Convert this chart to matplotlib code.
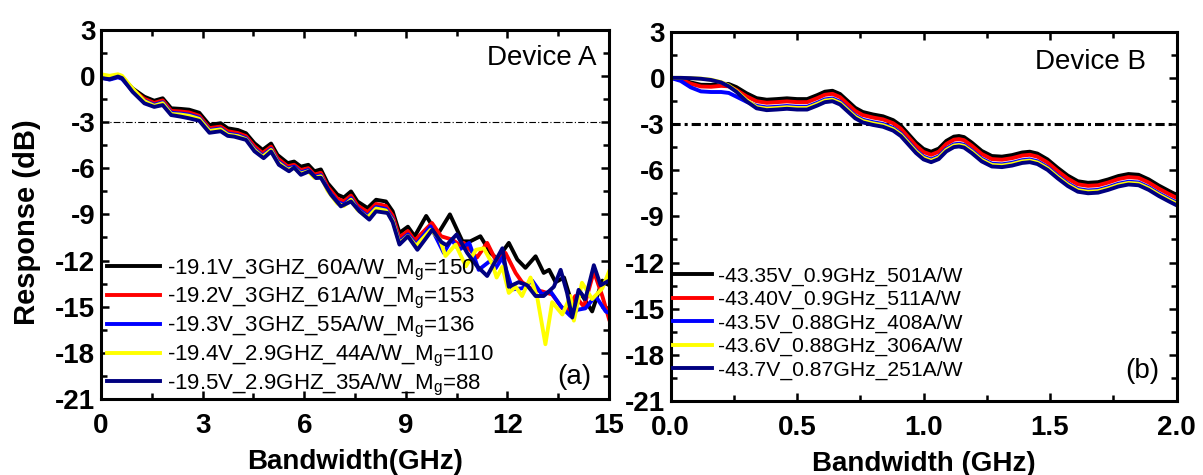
import matplotlib.pyplot as plt
from matplotlib.ticker import MultipleLocator

plt.rcParams['font.family'] = ['Liberation Sans', 'DejaVu Sans']
plt.rcParams['mathtext.default'] = 'regular'

# ---------------- Device A (frequency in GHz, response in dB) ----------------
a_black_f = [0, 0.25, 0.5, 0.62, 0.93, 1.28, 1.57, 1.82, 2.07, 2.35, 2.6, 2.9, 3.2, 3.53, 3.74,
             4.04, 4.28, 4.53, 4.77, 5.02, 5.21, 5.51, 5.7, 5.9, 6.12, 6.3, 6.49, 6.69, 6.98,
             7.17, 7.38, 7.57, 7.87, 8.12, 8.41, 8.61, 8.81, 9.06, 9.26, 9.6, 9.94, 10.3, 10.67,
             10.9, 11.2, 11.5, 11.7, 12.04, 12.29, 12.53, 12.83, 13.07, 13.23, 13.42, 13.67,
             13.91, 14.16, 14.5, 14.8, 15.0]
a_black_db = [-0.05, -0.15, 0.0, -0.1, -0.82, -1.36, -1.62, -1.46, -2.11, -2.15, -2.2, -2.4, -3.2,
              -3.08, -3.41, -3.52, -3.73, -4.38, -4.81, -4.4, -5.14, -5.67, -5.57, -5.9, -5.78,
              -6.2, -6.08, -6.97, -7.72, -7.9, -7.51, -8.16, -8.59, -8.05, -8.16, -8.8, -10.2,
              -9.8, -10.42, -9.1, -10.3, -9.0, -10.75, -10.75, -10.42, -11.5, -11.9, -10.85,
              -11.93, -12.47, -11.72, -12.8, -12.6, -13.4, -13.1, -14.85, -14.1, -15.3, -13.3,
              -13.6]

a_red_f = [0, 0.25, 0.5, 0.62, 0.93, 1.28, 1.57, 1.82, 2.07, 2.35, 2.6, 2.9, 3.2, 3.53, 3.74,
           4.04, 4.28, 4.53, 4.77, 5.02, 5.21, 5.51, 5.7, 5.9, 6.12, 6.3, 6.49, 6.69, 6.98,
           7.17, 7.38, 7.57, 7.87, 8.12, 8.41, 8.61, 8.81, 9.06, 9.26, 9.77, 10.04, 10.37,
           10.6, 10.71, 11.1, 11.4, 11.66, 11.94, 12.24, 12.43, 12.73, 13.02, 13.32, 13.62,
           13.76, 14.0, 14.26, 14.55, 14.8, 15.0]
a_red_db = [-0.05, -0.2, -0.05, -0.15, -0.9, -1.5, -1.76, -1.6, -2.28, -2.32, -2.38, -2.6, -3.4,
            -3.3, -3.6, -3.72, -3.92, -4.58, -5.02, -4.6, -5.35, -5.88, -5.78, -6.12, -6.0,
            -6.42, -6.3, -7.2, -7.98, -8.15, -7.78, -8.42, -8.85, -8.32, -8.45, -9.08, -10.5,
            -10.08, -10.7, -9.56, -10.42, -10.64, -11.0, -10.85, -11.8, -10.85, -12.0, -11.5,
            -12.8, -13.4, -13.87, -14.0, -14.2, -15.1, -15.27, -14.3, -15.0, -12.7, -14.3,
            -15.8]

a_blue_f = [0, 0.25, 0.5, 0.62, 0.93, 1.28, 1.57, 1.82, 2.07, 2.35, 2.6, 2.9, 3.2, 3.53, 3.74,
            4.04, 4.28, 4.53, 4.77, 5.02, 5.21, 5.51, 5.7, 5.9, 6.12, 6.3, 6.49, 6.69, 6.98,
            7.17, 7.38, 7.57, 7.87, 8.12, 8.41, 8.61, 8.81, 9.06, 9.3, 9.73, 10.12, 10.35,
            10.57, 10.87, 11.15, 11.5, 11.65, 11.85, 12.14, 12.43, 12.73, 13.02, 13.27, 13.57,
            13.86, 14.06, 14.3, 14.6, 14.9, 15.0]
a_blue_db = [-0.1, -0.25, -0.1, -0.2, -0.98, -1.62, -1.88, -1.72, -2.4, -2.45, -2.52, -2.72,
             -3.52, -3.42, -3.75, -3.85, -4.05, -4.75, -5.18, -4.75, -5.52, -6.02, -5.9, -6.27,
             -6.12, -6.55, -6.45, -7.38, -8.2, -8.35, -7.95, -8.6, -9.1, -8.52, -8.65, -9.3,
             -10.78, -10.3, -10.95, -9.78, -11.5, -10.64, -11.3, -10.85, -12.6, -12.0, -12.5,
             -11.8, -13.87, -13.8, -13.3, -14.2, -14.0, -14.95, -15.6, -15.2, -15.1, -14.3,
             -15.3, -15.4]

a_yellow_f = [0, 0.25, 0.5, 0.62, 0.93, 1.28, 1.57, 1.82, 2.07, 2.35, 2.6, 2.9, 3.2, 3.53, 3.74,
              4.04, 4.28, 4.53, 4.77, 5.02, 5.21, 5.51, 5.7, 5.9, 6.12, 6.3, 6.49, 6.69, 6.98,
              7.17, 7.38, 7.57, 7.87, 8.12, 8.41, 8.61, 8.81, 9.06, 9.3, 9.73, 10.0, 10.17,
              10.47, 10.77, 11.07, 11.3, 11.55, 11.68, 11.85, 12.04, 12.24, 12.43, 12.68, 12.88,
              13.12, 13.32, 13.62, 13.86, 13.96, 14.2, 14.5, 14.8, 15.0]
a_yellow_db = [0.1, 0.0, 0.1, 0.0, -0.82, -1.65, -1.95, -1.78, -2.48, -2.52, -2.6, -2.8, -3.58,
               -3.48, -3.82, -3.92, -4.12, -4.82, -5.26, -4.82, -5.6, -6.1, -5.98, -6.35, -6.2,
               -6.62, -6.53, -7.46, -8.3, -8.45, -8.05, -8.7, -9.2, -8.62, -8.75, -9.4, -10.88,
               -10.4, -11.05, -10.0, -10.6, -11.7, -10.96, -12.37, -11.3, -11.2, -12.2, -13.1,
               -12.4, -14.1, -13.7, -14.3, -13.1, -14.4, -17.43, -14.7, -15.5, -14.3, -15.9,
               -13.44, -14.5, -13.8, -12.7]

a_navy_f = [0, 0.25, 0.5, 0.62, 0.93, 1.28, 1.57, 1.82, 2.07, 2.35, 2.6, 2.9, 3.2, 3.53, 3.74,
            3.93, 4.28, 4.53, 4.8, 5.02, 5.25, 5.55, 5.7, 5.9, 6.15, 6.35, 6.49, 6.79, 7.08,
            7.38, 7.63, 7.92, 8.12, 8.46, 8.61, 8.81, 9.06, 9.34, 9.78, 10.05, 10.2, 10.5,
            10.81, 11.1, 11.4, 11.65, 11.85, 12.04, 12.33, 12.58, 12.83, 13.07, 13.37, 13.57,
            13.76, 13.91, 14.1, 14.3, 14.55, 14.75, 15.0]
a_navy_db = [-0.15, -0.22, -0.05, -0.15, -1.04, -1.79, -2.02, -1.9, -2.55, -2.65, -2.76, -2.92,
             -3.7, -3.6, -3.9, -3.95, -4.16, -4.9, -5.35, -4.92, -5.78, -6.2, -5.96, -6.43, -6.2,
             -6.64, -6.62, -7.72, -8.48, -8.16, -8.8, -9.34, -8.8, -8.91, -9.5, -10.96, -10.42,
             -11.3, -10.0, -10.8, -11.0, -10.3, -11.5, -12.36, -13.0, -12.0, -11.2, -13.7,
             -13.4, -13.6, -14.3, -14.3, -13.7, -12.6, -14.1, -15.7, -13.9, -14.5, -12.3, -13.6,
             -13.3]

labels_a = ['-19.1V_3GHZ_60A/W_M$_{g}$=150',
            '-19.2V_3GHZ_61A/W_M$_{g}$=153',
            '-19.3V_3GHZ_55A/W_M$_{g}$=136',
            '-19.4V_2.9GHZ_44A/W_M$_{g}$=110',
            '-19.5V_2.9GHZ_35A/W_M$_{g}$=88']

# ---------------- Device B (shared frequency grid) ----------------
freq_b = [0.0, 0.04, 0.08, 0.12, 0.16, 0.20, 0.23, 0.26, 0.30, 0.34, 0.38, 0.42, 0.46, 0.50,
          0.54, 0.58, 0.61, 0.64, 0.67, 0.70, 0.73, 0.76, 0.80, 0.84, 0.88, 0.91, 0.94, 0.97,
          1.00, 1.03, 1.06, 1.09, 1.12, 1.14, 1.16, 1.19, 1.23, 1.27, 1.31, 1.35, 1.39, 1.42,
          1.45, 1.49, 1.53, 1.57, 1.61, 1.65, 1.69, 1.73, 1.77, 1.81, 1.85, 1.89, 1.93, 1.97,
          2.00]
b_black = [0.0, -0.08, -0.3, -0.45, -0.46, -0.38, -0.4, -0.6, -1.0, -1.32, -1.42, -1.38, -1.33,
           -1.38, -1.38, -1.12, -0.9, -0.84, -1.05, -1.5, -1.95, -2.22, -2.38, -2.5, -2.75,
           -3.1, -3.65, -4.2, -4.62, -4.8, -4.6, -4.1, -3.82, -3.78, -3.85, -4.2, -4.75, -5.08,
           -5.12, -5.02, -4.85, -4.8, -4.92, -5.3, -5.85, -6.35, -6.72, -6.82, -6.78, -6.6,
           -6.38, -6.25, -6.3, -6.6, -7.0, -7.35, -7.6]
b_red = [0.0, -0.1, -0.38, -0.56, -0.58, -0.52, -0.55, -0.78, -1.2, -1.52, -1.62, -1.58, -1.53,
         -1.58, -1.58, -1.32, -1.1, -1.04, -1.25, -1.7, -2.15, -2.42, -2.58, -2.7, -2.95, -3.3,
         -3.85, -4.4, -4.82, -5.0, -4.8, -4.3, -4.02, -3.98, -4.05, -4.4, -4.95, -5.28, -5.32,
         -5.22, -5.05, -5.0, -5.12, -5.5, -6.05, -6.55, -6.92, -7.02, -6.98, -6.8, -6.58, -6.45,
         -6.5, -6.8, -7.2, -7.55, -7.8]
b_blue = [0.0, -0.2, -0.62, -0.88, -0.92, -0.92, -0.98, -1.22, -1.55, -1.82, -1.92, -1.88,
          -1.83, -1.88, -1.88, -1.62, -1.4, -1.34, -1.55, -2.0, -2.45, -2.72, -2.88, -3.0,
          -3.25, -3.6, -4.15, -4.7, -5.12, -5.3, -5.1, -4.6, -4.32, -4.28, -4.35, -4.7, -5.25,
          -5.58, -5.62, -5.52, -5.35, -5.3, -5.42, -5.8, -6.35, -6.85, -7.22, -7.32, -7.28,
          -7.1, -6.88, -6.75, -6.8, -7.1, -7.5, -7.85, -8.1]
b_yellow = [0.0, 0.0, -0.02, -0.05, -0.12, -0.28, -0.5, -0.85, -1.45, -1.9, -2.0, -1.96, -1.91,
            -1.96, -1.96, -1.7, -1.48, -1.42, -1.63, -2.08, -2.53, -2.8, -2.96, -3.08, -3.33,
            -3.68, -4.23, -4.78, -5.2, -5.38, -5.18, -4.68, -4.4, -4.36, -4.43, -4.78, -5.33,
            -5.66, -5.7, -5.6, -5.43, -5.38, -5.5, -5.88, -6.43, -6.93, -7.3, -7.4, -7.36, -7.18,
            -6.96, -6.83, -6.88, -7.18, -7.58, -7.93, -8.18]
b_navy = [0.0, 0.0, -0.02, -0.06, -0.14, -0.3, -0.55, -0.9, -1.52, -1.98, -2.1, -2.06, -2.01,
          -2.06, -2.06, -1.8, -1.58, -1.52, -1.73, -2.18, -2.63, -2.9, -3.06, -3.18, -3.43,
          -3.78, -4.33, -4.88, -5.3, -5.48, -5.28, -4.78, -4.5, -4.46, -4.53, -4.88, -5.43,
          -5.76, -5.8, -5.7, -5.53, -5.48, -5.6, -5.98, -6.53, -7.03, -7.4, -7.5, -7.46, -7.28,
          -7.06, -6.93, -6.98, -7.28, -7.68, -8.03, -8.28]

labels_b = ['-43.35V_0.9GHz_501A/W',
            '-43.40V_0.9GHz_511A/W',
            '-43.5V_0.88GHz_408A/W',
            '-43.6V_0.88GHz_306A/W',
            '-43.7V_0.87GHz_251A/W']

colors = ['black', 'red', 'blue', 'yellow', '#000080']

y_ticks = [3, 0, -3, -6, -9, -12, -15, -18, -21]
x_ticks_a = [0, 3, 6, 9, 12, 15]
x_ticks_b = [0.0, 0.5, 1.0, 1.5, 2.0]


def style_axes(ax, xmax, xticks, xlabels, xminor):
    ax.set_xlim(0, xmax)
    ax.set_ylim(-21, 3)
    ax.set_xticks(xticks)
    ax.set_xticklabels(xlabels, fontweight='bold', fontsize=20)
    ax.set_yticks(y_ticks)
    ax.set_yticklabels([str(v) for v in y_ticks], fontweight='bold', fontsize=20)
    ax.xaxis.set_minor_locator(MultipleLocator(xminor))
    ax.yaxis.set_minor_locator(MultipleLocator(1.5))
    ax.tick_params(which='both', direction='in', top=True, right=True, width=1.8)
    ax.tick_params(which='major', length=6)
    ax.tick_params(which='minor', length=4)
    ax.tick_params(axis='x', which='major', pad=10)
    ax.tick_params(axis='y', which='major', pad=4)
    for s in ax.spines.values():
        s.set_linewidth(2.2)


fig = plt.figure(figsize=(12.03, 4.75), dpi=100)
ax_a = fig.add_axes([0.0840, 0.1596, 0.4223, 0.7781])
ax_b = fig.add_axes([0.5574, 0.1558, 0.4206, 0.7775])

# Device A
ax_a.axhline(-3, color='black', lw=0.8, ls=(0, (6, 2, 1, 2)), zorder=1)
series_a = [(a_black_f, a_black_db), (a_red_f, a_red_db), (a_blue_f, a_blue_db),
            (a_yellow_f, a_yellow_db), (a_navy_f, a_navy_db)]
for (f, db), c, lab in zip(series_a, colors, labels_a):
    ax_a.plot(f, db, color=c, lw=2.8, label=lab, zorder=2)
style_axes(ax_a, 15, x_ticks_a, [str(v) for v in x_ticks_a], 1.5)
ax_a.set_xlabel('Bandwidth(GHz)', fontsize=20, fontweight='bold')
ax_a.xaxis.set_label_coords(0.5, -0.135)
ax_a.set_ylabel('Response (dB)', fontsize=21, fontweight='bold')
ax_a.yaxis.set_label_coords(-0.118, 0.48)
ax_a.text(0.976, 0.904, 'Device A', transform=ax_a.transAxes, ha='right', va='baseline',
          fontsize=20)
ax_a.text(0.965, 0.06, '(a)', transform=ax_a.transAxes, ha='right', va='center', fontsize=20)
ax_a.legend(loc='upper left', bbox_to_anchor=(0.012, 0.386), frameon=False, fontsize=16,
            handlelength=2.4, handletextpad=0.3, labelspacing=0.12, borderpad=0,
            borderaxespad=0)

# Device B
ax_b.axhline(-3, color='black', lw=2.2, ls=(0, (3, 1.3, 1, 1.3)), zorder=1)
for db, c, lab in zip([b_black, b_red, b_blue, b_yellow, b_navy], colors, labels_b):
    ax_b.plot(freq_b, db, color=c, lw=2.8, label=lab, zorder=2)
style_axes(ax_b, 2.0, x_ticks_b, ['%.1f' % v for v in x_ticks_b], 0.25)
ax_b.set_xlabel('Bandwidth (GHz)', fontsize=20, fontweight='bold')
ax_b.xaxis.set_label_coords(0.5, -0.135)
ax_b.text(0.94, 0.90, 'Device B', transform=ax_b.transAxes, ha='right', va='baseline',
          fontsize=20)
ax_b.text(0.967, 0.081, '(b)', transform=ax_b.transAxes, ha='right', va='center', fontsize=20)
ax_b.legend(loc='upper left', bbox_to_anchor=(0.005, 0.364), frameon=False, fontsize=15.2,
            handlelength=1.85, handletextpad=0.3, labelspacing=0.2, borderpad=0,
            borderaxespad=0)

fig.savefig('out.png', dpi=100)
